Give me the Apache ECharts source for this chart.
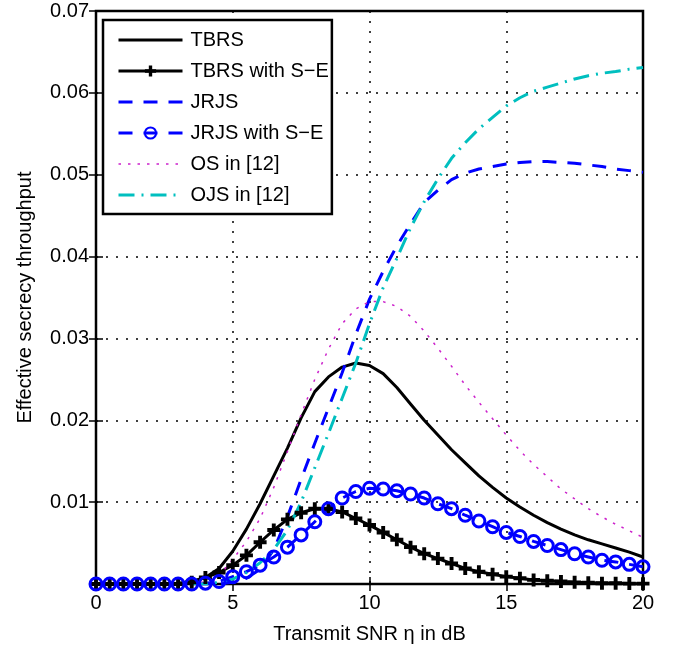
<!DOCTYPE html>
<html>
<head>
    <meta charset="utf-8">
    <title>Effective secrecy throughput</title>
    <script src="https://cdn.jsdelivr.net/npm/echarts@6/dist/echarts.min.js"></script>
</head>
<body style="margin:0;background:#fff;">
<div id="main" style="width:674px;height:651px;"></div>
<script>
    // transmit SNR in dB
    var snr = [0, 0.5, 1, 1.5, 2, 2.5, 3, 3.5, 4, 4.5, 5, 5.5, 6, 6.5, 7, 7.5, 8, 8.5, 9, 9.5, 10,
        10.5, 11, 11.5, 12, 12.5, 13, 13.5, 14, 14.5, 15, 15.5, 16, 16.5, 17, 17.5, 18, 18.5, 19, 19.5, 20];

    var tbrs = [0, 0, 0, 0, 0, 0.00002, 0.0001, 0.0003, 0.0008, 0.0019, 0.0040, 0.0067, 0.0098, 0.0132,
        0.0166, 0.0203, 0.0235, 0.0253, 0.0265, 0.0270, 0.0267, 0.0257, 0.0240, 0.0220, 0.0200, 0.0182,
        0.0164, 0.0148, 0.0132, 0.0118, 0.0105, 0.0094, 0.0084, 0.0075, 0.0067, 0.0060, 0.0054, 0.0049,
        0.0044, 0.0039, 0.0033];

    var tbrsSE = [0, 0, 0, 0, 0, 0, 0, 0.0002, 0.0008, 0.0014, 0.0023, 0.0035, 0.0051, 0.0066, 0.0079,
        0.0087, 0.0092, 0.0092, 0.0088, 0.0080, 0.0072, 0.0063, 0.0054, 0.0045, 0.0037, 0.0031, 0.0025,
        0.0019, 0.0015, 0.0012, 0.0009, 0.0007, 0.0005, 0.0004, 0.0003, 0.0002, 0.00015, 0.0001, 0.0001,
        0.00005, 0.00004];

    var jrjs = [0, 0, 0, 0, 0, 0, 0, 0, 0, 0, 0.0002, 0.0007, 0.0018, 0.0042, 0.0082, 0.0128, 0.0172,
        0.0215, 0.0258, 0.0305, 0.0348, 0.0382, 0.0413, 0.0440, 0.0466, 0.0481, 0.0494, 0.0502, 0.0507,
        0.0510, 0.0513, 0.0515, 0.0516, 0.0516, 0.0515, 0.0514, 0.0512, 0.0510, 0.0507, 0.0505, 0.0503];

    var jrjsSE = [0, 0, 0, 0, 0, 0, 0, 0, 0.0001, 0.0003, 0.0009, 0.0015, 0.0023, 0.0033, 0.0045, 0.0060,
        0.0076, 0.0092, 0.0105, 0.0113, 0.0117, 0.0116, 0.0114, 0.0110, 0.0105, 0.0098, 0.0092, 0.0084,
        0.0077, 0.0070, 0.0063, 0.0058, 0.0052, 0.0047, 0.0042, 0.0037, 0.0033, 0.0029, 0.0027, 0.0024,
        0.0021];

    var os = [0, 0, 0, 0, 0, 0, 0, 0, 0.0003, 0.0010, 0.0030, 0.0052, 0.0080, 0.0118, 0.0162, 0.0207,
        0.0250, 0.0287, 0.0318, 0.0336, 0.0345, 0.0345, 0.0339, 0.0327, 0.0309, 0.0288, 0.0266, 0.0243,
        0.0222, 0.0202, 0.0182, 0.0163, 0.0146, 0.0131, 0.0116, 0.0104, 0.0092, 0.0082, 0.0073, 0.0065,
        0.0057];

    var ojs = [0, 0, 0, 0, 0, 0, 0, 0, 0, 0.0002, 0.0006, 0.0014, 0.0026, 0.0042, 0.0066, 0.0100, 0.0142,
        0.0184, 0.0227, 0.0270, 0.0318, 0.0362, 0.0398, 0.0435, 0.0467, 0.0495, 0.0520, 0.0539, 0.0556,
        0.0570, 0.0584, 0.0594, 0.0602, 0.0607, 0.0612, 0.0617, 0.0621, 0.0624, 0.0626, 0.0629, 0.0631];

    var names = ['TBRS', 'TBRS with S\u2212E', 'JRJS', 'JRJS with S\u2212E', 'OS in [12]', 'OJS in [12]'];

    var FONT = 'Liberation Sans';
    var plusPath = 'path://M3.5,0H6.5V3.5H10V6.5H6.5V10H3.5V6.5H0V3.5H3.5Z';

    function pairs(ys) {
        var out = [];
        for (var i = 0; i < snr.length; i++) out.push([snr[i], ys[i]]);
        return out;
    }

    // legend entries: series without markers get an invisible legend symbol
    var legendData = names.map(function (n, i) {
        var lw = {lineStyle: {width: i === 4 ? 1.5 : 3}};
        if (i === 1 || i === 3) return Object.assign({name: n}, lw);
        return Object.assign({name: n, itemStyle: {opacity: 0}}, lw);
    });

    var hiddenAxis = {
        axisLine: {show: false},
        axisLabel: {show: false},
        splitLine: {show: false},
        axisTick: {show: true, inside: true, length: 7, lineStyle: {color: '#000', width: 1.5}}
    };

    var option = {
        animation: false,
        backgroundColor: '#fff',
        textStyle: {fontFamily: FONT, color: '#000'},
        grid: {
            left: 96, right: 31, top: 11, bottom: 67,
            show: true, borderColor: '#000', borderWidth: 2.5, backgroundColor: '#fff'
        },
        legend: {
            orient: 'vertical',
            left: 103, top: 20,
            data: legendData,
            itemWidth: 64, itemHeight: 14, itemGap: 9,
            padding: [9, 3, 8, 14],
            backgroundColor: '#fff',
            borderColor: '#000', borderWidth: 2.5, borderRadius: 0,
            textStyle: {fontFamily: FONT, fontSize: 20, color: '#000', lineHeight: 22, padding: [0, 0, 0, 3]}
        },
        xAxis: [{
            type: 'value', min: 0, max: 20, interval: 5,
            name: 'Transmit SNR \u03b7 in dB', nameLocation: 'middle', nameGap: 40,
            nameTextStyle: {fontFamily: FONT, fontSize: 20, color: '#000'},
            axisLine: {show: false},
            axisTick: {show: true, inside: true, length: 7, lineStyle: {color: '#000', width: 1.5}},
            axisLabel: {fontFamily: FONT, fontSize: 20, color: '#000', margin: 9},
            splitLine: {show: true, lineStyle: {color: '#000', width: 1.5, type: [2, 8]}}
        }, Object.assign({type: 'value', min: 0, max: 20, interval: 5, position: 'top'}, hiddenAxis)],
        yAxis: [{
            type: 'value', min: 0, max: 0.07, interval: 0.01,
            name: 'Effective secrecy throughput', nameLocation: 'middle', nameGap: 61, nameRotate: 90,
            nameTextStyle: {fontFamily: FONT, fontSize: 20, color: '#000'},
            axisLine: {show: false},
            axisTick: {show: true, inside: true, length: 7, lineStyle: {color: '#000', width: 1.5}},
            axisLabel: {
                fontFamily: FONT, fontSize: 20, color: '#000', margin: 7,
                formatter: function (v) { return v === 0 ? '' : v.toFixed(2); }
            },
            splitLine: {show: true, lineStyle: {color: '#000', width: 1.5, type: [2, 8]}}
        }, Object.assign({type: 'value', min: 0, max: 0.07, interval: 0.01, position: 'right'}, hiddenAxis)],
        series: [{
            name: names[0], type: 'line', data: pairs(tbrs),
            symbol: 'none', lineStyle: {color: '#000', width: 3}, itemStyle: {color: '#000'}
        }, {
            name: names[1], type: 'line', data: pairs(tbrsSE),
            symbol: plusPath, symbolSize: 13, showAllSymbol: true,
            lineStyle: {color: '#000', width: 3}, itemStyle: {color: '#000', borderWidth: 0}
        }, {
            name: names[2], type: 'line', data: pairs(jrjs),
            symbol: 'none', lineStyle: {color: '#0000ff', width: 3, type: [14, 11]}, itemStyle: {color: '#0000ff'}
        }, {
            name: names[3], type: 'line', data: pairs(jrjsSE),
            symbol: 'circle', symbolSize: 12, showAllSymbol: true,
            lineStyle: {color: '#0000ff', width: 3, type: [14, 11]},
            itemStyle: {color: 'rgba(0,0,0,0)', borderColor: '#0000ff', borderWidth: 3}
        }, {
            name: names[4], type: 'line', data: pairs(os),
            symbol: 'none', lineStyle: {color: '#cc22cc', width: 1.5, type: [2.5, 7]}, itemStyle: {color: '#cc22cc'}
        }, {
            name: names[5], type: 'line', data: pairs(ojs),
            symbol: 'none', lineStyle: {color: '#00bfbf', width: 3, type: [16, 7, 2, 7]}, itemStyle: {color: '#00bfbf'}
        }]
    };

    var myChart = echarts.init(document.getElementById('main'));
    myChart.setOption(option);
</script>
</body>
</html>
